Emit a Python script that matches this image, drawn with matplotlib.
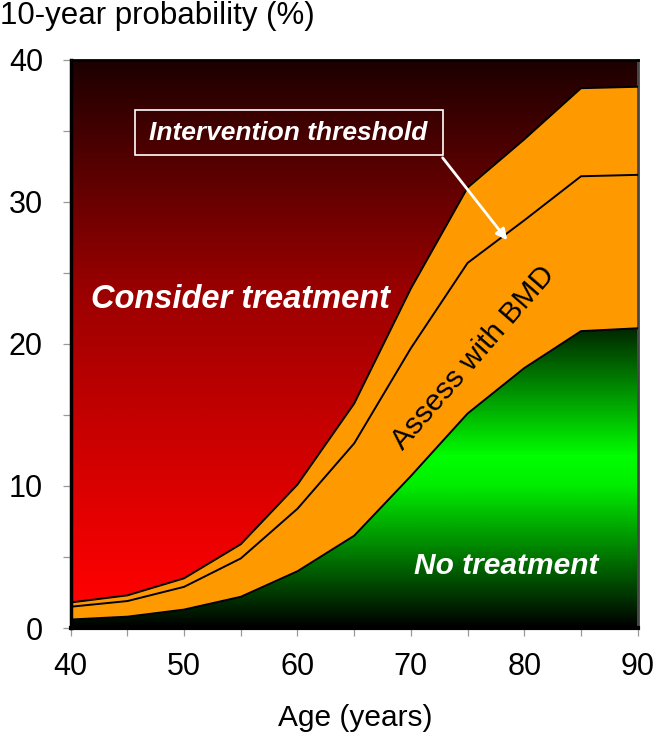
import numpy as np
import matplotlib
matplotlib.use('Agg')
import matplotlib.pyplot as plt
from matplotlib.colors import LinearSegmentedColormap
from matplotlib.patches import Polygon, Rectangle

plt.rcParams['font.family'] = ['Liberation Sans', 'DejaVu Sans']

age = [40, 45, 50, 55, 60, 65, 70, 75, 80, 85, 90]
upper = [1.8, 2.3, 3.5, 5.9, 10.1, 15.8, 23.9, 31.0, 34.4, 38.0, 38.1]
threshold = [1.5, 1.9, 2.9, 4.9, 8.4, 13.0, 19.7, 25.7, 28.7, 31.8, 31.9]
lower = [0.6, 0.8, 1.3, 2.2, 4.0, 6.5, 10.7, 15.1, 18.3, 20.9, 21.1]

xticks = [40, 50, 60, 70, 80, 90]
yticks = [0, 10, 20, 30, 40]

fig = plt.figure(figsize=(6.57, 7.38), dpi=100)
ax = fig.add_axes([0.1076, 0.149, 0.863, 0.770])
ax.set_xlim(40, 90)
ax.set_ylim(0, 40)

a = np.array(age, float)
u = np.array(upper, float)
lo = np.array(lower, float)

# gradient images
yy = np.linspace(0, 40, 800)
red_cmap = LinearSegmentedColormap.from_list('r', [
    (0.0, '#ff0000'), (2 / 40, '#ff0000'), (24 / 40, '#990000'), (1.0, '#1c0000')])
green_cmap = LinearSegmentedColormap.from_list('g', [
    (0.0, '#000000'), (10 / 40, '#00ee00'), (12 / 40, '#00ff00'),
    (21 / 40, '#002800'), (1.0, '#002800')])

red_img = red_cmap(yy / 40)[:, None, :]
green_img = green_cmap(yy / 40)[:, None, :]

red_poly = Polygon(np.column_stack([np.r_[a, a[::-1]], np.r_[u, np.full_like(u, 40)]]),
                   closed=True, facecolor='none', edgecolor='none', transform=ax.transData)
green_poly = Polygon(np.column_stack([np.r_[a, a[::-1]], np.r_[lo, np.zeros_like(lo)]]),
                     closed=True, facecolor='none', edgecolor='none', transform=ax.transData)
ax.add_patch(red_poly)
ax.add_patch(green_poly)

im1 = ax.imshow(red_img, extent=[40, 90, 0, 40], origin='lower', aspect='auto',
                interpolation='bilinear', zorder=1)
im1.set_clip_path(red_poly)
im2 = ax.imshow(green_img, extent=[40, 90, 0, 40], origin='lower', aspect='auto',
                interpolation='bilinear', zorder=1)
im2.set_clip_path(green_poly)

ax.fill_between(age, lower, upper, facecolor='#ff9900', edgecolor='none', zorder=1.5)

for series in (upper, threshold, lower):
    ax.plot(age, series, color='black', lw=1.4, zorder=3)

ax.set_xlim(40, 90)
ax.set_ylim(0, 40)

# texts
ax.text(55.0, 23.1, 'Consider treatment', color='white', fontsize=23.5,
        fontweight='bold', fontstyle='italic', ha='center', va='center', zorder=5)
ax.text(75.5, 19.0, 'Assess with BMD', color='black', fontsize=21.5,
        rotation=49, rotation_mode='anchor', ha='center', va='center', zorder=5)
ax.text(78.4, 4.36, 'No treatment', color='white', fontsize=21.5,
        fontweight='bold', fontstyle='italic', ha='center', va='center', zorder=5)
ax.text(59.2, 34.87, 'Intervention threshold', color='white', fontsize=19,
        fontweight='bold', fontstyle='italic', ha='center', va='center', zorder=5)
ax.add_patch(Rectangle((45.67, 33.29), 72.8 - 45.67, 36.45 - 33.29, facecolor='none',
                       edgecolor='white', lw=1.2, zorder=5))
ax.annotate('', xy=(78.5, 27.3), xytext=(72.8, 33.1),
            arrowprops=dict(arrowstyle='-|>', color='white', lw=2, mutation_scale=16,
                            shrinkA=0, shrinkB=0),
            zorder=6)

# axes styling
ax.set_xticks(xticks)
ax.set_yticks(yticks)
ax.set_xticks([45, 55, 65, 75, 85], minor=True)
ax.set_yticks([5, 15, 25, 35], minor=True)
ax.tick_params(axis='both', which='both', direction='out', length=6, width=0.9,
               color='#999999', labelcolor='black', labelsize=22)
ax.tick_params(axis='x', which='major', pad=11)
ax.tick_params(axis='y', which='major', pad=14)
ax.spines['left'].set_linewidth(2.5)
ax.spines['bottom'].set_linewidth(3)
ax.spines['top'].set_linewidth(2)
for s in ('left', 'bottom', 'top'):
    ax.spines[s].set_color('black')
ax.spines['right'].set_linewidth(2)
ax.spines['right'].set_color('#444444')

fig.text(0.0, 0.998, '10-year probability (%)', fontsize=22.5, ha='left', va='top')
fig.text(0.54, 0.027, 'Age (years)', fontsize=21.5, ha='center', va='center')

fig.savefig('out.png', dpi=100)
